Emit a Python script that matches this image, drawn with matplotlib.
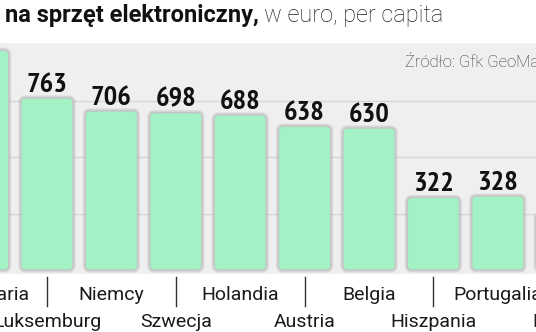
import matplotlib
matplotlib.use("Agg")
import matplotlib.pyplot as plt
from matplotlib.patches import FancyBboxPatch
from matplotlib.lines import Line2D
from matplotlib import transforms, font_manager

# Spending on consumer electronics, EUR per capita
countries = ["Szwajcaria", "Luksemburg", "Niemcy", "Szwecja", "Holandia",
             "Austria", "Belgia", "Hiszpania", "Portugalia", "Polska"]
values = [975, 763, 706, 698, 688, 638, 630, 322, 328, 252]
gridlines = [250, 500, 750]

title_bold = "na sprzęt elektroniczny,"
title_rest = "w euro, per capita"
source = "Źródło: Gfk GeoMarketing"

BAR = "#a2f2c6"
PANEL = "#efefef"


def first_installed(candidates):
    have = {f.name for f in font_manager.fontManager.ttflist}
    for c in candidates:
        if c in have:
            return c
    return "DejaVu Sans"


NUM_FONT = [first_installed(["PT Sans Narrow", "Archivo Narrow",
                             "Roboto Condensed", "Oswald",
                             "Liberation Sans Narrow"]), "DejaVu Sans"]
TXT_FONT = ["Roboto", "DejaVu Sans"]

W, H, DPI = 536, 332, 100
fig = plt.figure(figsize=(W / DPI, H / DPI), dpi=DPI)
fig.patch.set_facecolor("white")

ax = fig.add_axes([0, 58 / H, 1, 231 / H])
ax.set_facecolor(PANEL)
ax.set_xlim(0.27, 8.593)
ax.set_ylim(-17.7, 1007)
for s in ax.spines.values():
    s.set_visible(False)
ax.set_xticks([])
ax.set_yticks([])

for g in gridlines:
    ax.axhline(g, color="#d6d6d6", lw=1, zorder=1)

xs = list(range(len(values)))
bars = ax.bar(xs, values, width=0.81, color="none", edgecolor="none")

# pixel -> data conversion factors, so corners stay round on screen
ux = 1 / 64.4
uy = (1007 + 17.7) / 231
aspect = uy / ux
radius = 4.5 * ux

for b in bars:
    x0, y0 = b.get_x(), b.get_y()
    w, h = b.get_width(), b.get_height()
    shadow = FancyBboxPatch((x0, y0), w, h,
                            boxstyle=f"round,pad=0,rounding_size={radius}",
                            mutation_aspect=aspect, facecolor="none",
                            edgecolor="#000000", alpha=0.10, lw=3.5, zorder=2)
    ax.add_patch(shadow)
    patch = FancyBboxPatch((x0, y0), w, h,
                           boxstyle=f"round,pad=0,rounding_size={radius}",
                           mutation_aspect=aspect, facecolor=BAR,
                           edgecolor="#c4c4c4", lw=1.0, zorder=3)
    ax.add_patch(patch)

# value labels
for x, v in zip(xs, values):
    ax.annotate(f"{v}", (x, v), xytext=(0, 6), textcoords="offset pixels",
                ha="center", va="baseline", fontsize=20.5, fontweight="bold",
                family=NUM_FONT, color="#111111", zorder=4, clip_on=False)

# staggered category labels with separator ticks
tr = transforms.blended_transform_factory(ax.transData, fig.transFigure)
y1 = (H - 300) / H
y2 = (H - 327) / H
for i, name in enumerate(countries):
    if i % 2 == 0:
        ax.text(i, y1, name, transform=tr, ha="center", va="baseline",
                fontsize=14, family=TXT_FONT, color="#1a1a1a", clip_on=False)
    else:
        ax.text(i, y2, name, transform=tr, ha="center", va="baseline",
                fontsize=14, family=TXT_FONT, color="#1a1a1a", clip_on=False)
        ax.add_line(Line2D([i, i], [(H - 277) / H, (H - 306) / H],
                           transform=tr, color="#333333", lw=1.0,
                           clip_on=False))

# heading
tb = fig.text(5 / W, (H - 22) / H, title_bold, fontsize=17, fontweight="bold",
              family=TXT_FONT, color="#111111", ha="left", va="baseline")
fig.canvas.draw()
bb = tb.get_window_extent()
fig.text((bb.x1 + 5) / W, (H - 22) / H, title_rest, fontsize=17,
         fontweight="light", family=TXT_FONT, color="#222222",
         ha="left", va="baseline")

fig.text(405 / W, (H - 67) / H, source, fontsize=12, fontweight="light",
         family=TXT_FONT, color="#333333", ha="left", va="baseline")

fig.savefig("out.png", dpi=DPI, facecolor="white")
